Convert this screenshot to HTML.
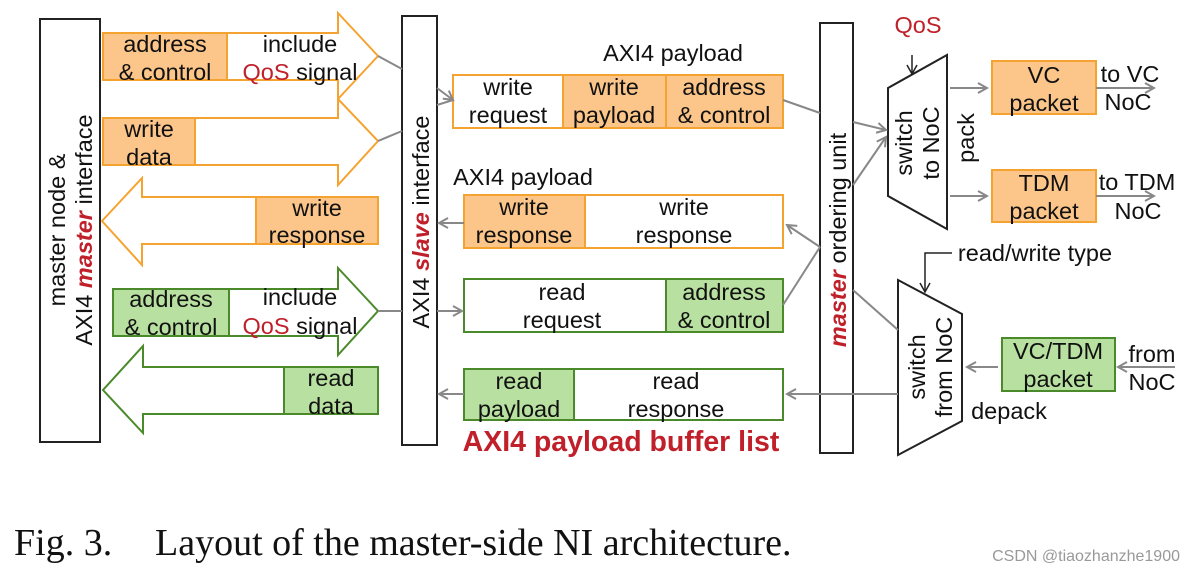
<!DOCTYPE html>
<html><head><style>body{margin:0;background:#fff}svg{display:block}</style></head><body>
<svg width="1196" height="572" viewBox="0 0 1196 572" xmlns="http://www.w3.org/2000/svg" font-family="Liberation Sans, sans-serif" font-size="23.5">
<defs><marker id="a" markerWidth="12" markerHeight="12" refX="10" refY="6" orient="auto" markerUnits="userSpaceOnUse"><path d="M1,1 L10,6 L1,11" fill="none" stroke="#888" stroke-width="2"/></marker>
<marker id="b" markerWidth="12" markerHeight="12" refX="10" refY="6" orient="auto" markerUnits="userSpaceOnUse"><path d="M1,1 L10,6 L1,11" fill="none" stroke="#222" stroke-width="1.5"/></marker></defs>
<g fill="none" stroke="#222" stroke-width="2">
<rect x="40" y="19" width="60" height="423"/><rect x="402" y="16" width="35" height="429"/><rect x="820" y="23" width="33" height="430"/>
</g>
<g fill="#fff" stroke="#f5a330" stroke-width="2">
<path d="M103,33 H338 V13 L378,56 L338,99 V80 H103 Z"/>
<path d="M103,118 H338 V99 L378,141 L338,185 V165 H103 Z"/>
<path d="M378,197 H142 V178 L102,221 L142,265 V244 H378 Z"/>
</g>
<g fill="#fcc68a" stroke="#f5a330" stroke-width="2">
<rect x="103" y="33" width="124" height="47"/><rect x="103" y="118" width="92" height="47"/><rect x="256" y="197" width="122" height="47"/>
<rect x="563" y="75" width="103" height="53"/><rect x="666" y="75" width="117" height="53"/><rect x="464" y="195" width="121" height="53"/>
<rect x="992" y="61" width="104" height="53"/><rect x="992" y="170" width="104" height="52"/>
</g>
<g fill="none" stroke="#f5a330" stroke-width="2"><rect x="453" y="75" width="110" height="53"/><rect x="585" y="195" width="198" height="53"/></g>
<g fill="#fff" stroke="#4a8a2a" stroke-width="2">
<path d="M113,289 H338 V268 L378,311 L338,355 V336 H113 Z"/>
<path d="M378,367 H143 V346 L103,390 L143,433 V414 H378 Z"/>
</g>
<g fill="#b8e0a0" stroke="#4a8a2a" stroke-width="2">
<rect x="113" y="289" width="116" height="47"/><rect x="284" y="367" width="94" height="47"/>
<rect x="666" y="279" width="117" height="53"/><rect x="464" y="369" width="110" height="51"/><rect x="1002" y="338" width="113" height="53"/>
</g>
<g fill="none" stroke="#4a8a2a" stroke-width="2"><rect x="464" y="279" width="202" height="53"/><rect x="574" y="369" width="209" height="51"/></g>
<g fill="#fff" stroke="#222" stroke-width="2">
<path d="M888,88 L947,55 L947,229 L888,196 Z"/><path d="M898,280 L962,314 L962,421 L898,455 Z"/>
</g>
<g stroke="#888" stroke-width="2" fill="none">
<path d="M378,56 L402,69"/><path d="M378,141 L402,131"/><path d="M378,311 L402,311"/>
<path d="M437,88 L453,100" marker-end="url(#a)"/><path d="M437,105 L453,100"/>
<path d="M437,311 L462,311" marker-end="url(#a)"/>
<path d="M464,223 L439,223" marker-end="url(#a)"/><path d="M464,394 L439,394" marker-end="url(#a)"/>
<path d="M783,100 L820,113"/><path d="M853,122 L886,130" marker-end="url(#a)"/><path d="M853,185 L886,137" marker-end="url(#a)"/>
<path d="M820,247 L787,225" marker-end="url(#a)"/><path d="M783,305 L820,247"/>
<path d="M853,290 L898,330"/><path d="M898,394 L787,394" marker-end="url(#a)"/>
<path d="M950,88 L987,88" marker-end="url(#a)"/><path d="M950,196 L987,196" marker-end="url(#a)"/>
<path d="M1096,88 L1154,88" marker-end="url(#a)"/><path d="M1096,196 L1154,196" marker-end="url(#a)"/>
<path d="M998,367 L967,367" marker-end="url(#a)"/><path d="M1175,367 L1118,367" marker-end="url(#a)"/>
</g>
<g stroke="#222" stroke-width="1.5" fill="none">
<path d="M912,55 L912,74" marker-end="url(#b)"/><path d="M952,253 H925 V292" marker-end="url(#b)"/>
</g>
<g fill="#111" text-anchor="middle">
<text x="165" y="52">address</text><text x="165" y="80">&amp; control</text>
<text x="300" y="52">include</text><text x="300" y="80"><tspan fill="#c0202a">QoS</tspan> signal</text>
<text x="149" y="137">write</text><text x="149" y="165">data</text>
<text x="317" y="216">write</text><text x="317" y="243">response</text>
<text x="171" y="307">address</text><text x="171" y="335">&amp; control</text>
<text x="300" y="305">include</text><text x="300" y="334"><tspan fill="#c0202a">QoS</tspan> signal</text>
<text x="331" y="386">read</text><text x="331" y="414">data</text>
<text x="508" y="95">write</text><text x="508" y="123">request</text>
<text x="614" y="95">write</text><text x="614" y="123">payload</text>
<text x="724" y="95">address</text><text x="724" y="123">&amp; control</text>
<text x="524" y="215">write</text><text x="524" y="243">response</text>
<text x="684" y="215">write</text><text x="684" y="243">response</text>
<text x="562" y="300">read</text><text x="562" y="328">request</text>
<text x="724" y="300">address</text><text x="724" y="328">&amp; control</text>
<text x="519" y="389">read</text><text x="519" y="417">payload</text>
<text x="676" y="389">read</text><text x="676" y="417">response</text>
<text x="673" y="61">AXI4 payload</text><text x="523" y="185">AXI4 payload</text>
<text x="621" y="451" font-weight="bold" font-size="28.5" fill="#c0202a">AXI4 payload buffer list</text>
<text x="918" y="33" fill="#c0202a">QoS</text>
<text x="1044" y="83">VC</text><text x="1044" y="111">packet</text>
<text x="1044" y="191">TDM</text><text x="1044" y="219">packet</text>
<text x="1058" y="359">VC/TDM</text><text x="1058" y="387">packet</text>
<text x="1130" y="82">to VC</text><text x="1128" y="110">NoC</text>
<text x="1137" y="190">to TDM</text><text x="1138" y="219">NoC</text>
<text x="1152" y="362">from</text><text x="1152" y="390">NoC</text>
<text x="1035" y="261">read/write type</text>
<text x="1009" y="419">depack</text>
</g>
<g fill="#111" text-anchor="middle" font-size="23.5">
<text transform="translate(65,230) rotate(-90)">master node &amp;</text>
<text transform="translate(92,230) rotate(-90)">AXI4 <tspan fill="#c0202a" font-weight="bold" font-style="italic">master</tspan> interface</text>
<text transform="translate(429,222) rotate(-90)">AXI4 <tspan fill="#c0202a" font-weight="bold" font-style="italic">slave</tspan> interface</text>
<text transform="translate(846,240) rotate(-90)"><tspan fill="#c0202a" font-weight="bold" font-style="italic">master</tspan> ordering unit</text>
<text transform="translate(912,143) rotate(-90)">switch</text><text transform="translate(939,143) rotate(-90)">to NoC</text>
<text transform="translate(974,138) rotate(-90)">pack</text>
<text transform="translate(925,367) rotate(-90)">switch</text><text transform="translate(952,367) rotate(-90)">from NoC</text>
</g>
<text x="14" y="555" font-family="Liberation Serif, serif" font-size="38" fill="#111">Fig. 3.</text>
<text x="155" y="555" font-family="Liberation Serif, serif" font-size="38" fill="#111">Layout of the master-side NI architecture.</text>
<text x="1180" y="561" text-anchor="end" font-size="16" fill="#999">CSDN @tiaozhanzhe1900</text>
</svg>
</body></html>
